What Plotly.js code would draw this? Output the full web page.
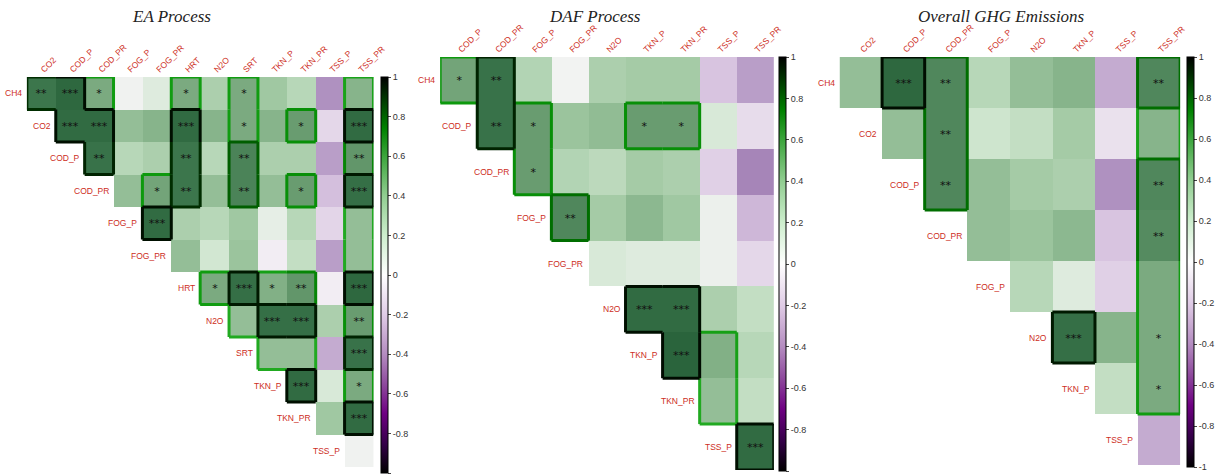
<!DOCTYPE html>
<html>
<head>
<meta charset="utf-8">
<script src="https://cdn.plot.ly/plotly-3.0.1.min.js"></script>
<style>html,body{margin:0;padding:0;background:#fff;}#chart{width:1215px;height:475px;}</style>
</head>
<body>
<div id="chart"></div>
<script>
// ---------- Panel titles ----------
const titles = ['EA Process', 'DAF Process', 'Overall GHG Emissions'];

// ---------- EA Process ----------
const eaVars = ['CH4','CO2','COD_P','COD_PR','FOG_P','FOG_PR','HRT','N2O','SRT','TKN_P','TKN_PR','TSS_P','TSS_PR'];
// each row: values from the first column right of the diagonal to the last column
const eaR = [
  [0.80, 0.88, 0.55, 0.03, 0.12, 0.55, 0.35, 0.55, 0.40, 0.30, -0.40, 0.50],
  [0.86, 0.86, 0.45, 0.50, 0.86, 0.50, 0.55, 0.50, 0.62, -0.12, 0.86],
  [0.82, 0.30, 0.35, 0.80, 0.30, 0.74, 0.35, 0.35, -0.35, 0.65],
  [0.45, 0.58, 0.80, 0.45, 0.74, 0.45, 0.62, -0.22, 0.84],
  [0.86, 0.35, 0.30, 0.40, 0.08, 0.30, -0.13, 0.45],
  [0.45, 0.18, 0.42, -0.03, 0.25, -0.35, 0.45],
  [0.55, 0.84, 0.52, 0.65, -0.03, 0.88],
  [0.45, 0.84, 0.84, 0.35, 0.62],
  [0.45, 0.45, -0.30, 0.82],
  [0.86, 0.15, 0.55],
  [0.40, 0.86],
  [0.03]
];
const eaStars = [
  ['**','***','*','','','*','','*','','','',' '],
  ['***','***','','','***','','*','','*','','***'],
  ['**','','','**','','**','','','','**'],
  ['','*','**','','**','','*','','***'],
  ['***','','','','','','',' '],
  ['','','','','','',' '],
  ['*','***','*','**','','***'],
  [' ','***','***','','**'],
  [' ',' ','','***'],
  ['***','','*'],
  ['','***'],
  ['']
];

// ---------- DAF Process ----------
const dafVars = ['CH4','COD_P','COD_PR','FOG_P','FOG_PR','N2O','TKN_P','TKN_PR','TSS_P','TSS_PR'];
const dafR = [
  [0.58, 0.82, 0.32, 0.02, 0.35, 0.38, 0.38, -0.20, -0.35],
  [0.82, 0.62, 0.42, 0.46, 0.62, 0.62, 0.15, -0.10],
  [0.62, 0.32, 0.28, 0.38, 0.35, -0.15, -0.45],
  [0.72, 0.38, 0.48, 0.40, 0.05, -0.25],
  [0.15, 0.12, 0.12, 0.05, -0.12],
  [0.86, 0.86, 0.35, 0.25],
  [0.90, 0.52, 0.30],
  [0.45, 0.25],
  [0.86]
];
const dafStars = [
  ['*','**','','','','','','',''],
  ['**','*','','','*','*','',''],
  ['*','','','','','',''],
  ['**','','','','',''],
  ['','','','',''],
  ['***','***','',''],
  ['***',' ',''],
  [' ',''],
  ['***']
];

// ---------- Overall GHG Emissions ----------
const ghgVars = ['CH4','CO2','COD_P','COD_PR','FOG_P','N2O','TKN_P','TSS_P','TSS_PR'];
const ghgR = [
  [0.45, 0.88, 0.72, 0.30, 0.45, 0.50, -0.30, 0.72],
  [0.45, 0.72, 0.20, 0.25, 0.38, -0.08, 0.50],
  [0.72, 0.45, 0.38, 0.35, -0.40, 0.72],
  [0.45, 0.42, 0.48, -0.20, 0.70],
  [0.30, 0.12, -0.15, 0.55],
  [0.84, 0.50, 0.55],
  [0.25, 0.55],
  [-0.30]
];
const ghgStars = [
  ['','***','**','','','','','**'],
  ['','**','','','','',' '],
  ['**','','','','','**'],
  ['','','','','**'],
  ['','','',' '],
  ['***','','*'],
  ['','*'],
  ['']
];

const cbTickVals = [1, 0.8, 0.6, 0.4, 0.2, 0, -0.2, -0.4, -0.6, -0.8, -1];
const cbTickText = ['1','0.8','0.6','0.4','0.2','0','-0.2','-0.4','-0.6','-0.8','-1'];

// ---------- styling ----------
const W = 1215, H = 475;
const LABEL_FONT = 'Liberation Sans Narrow, Arial Narrow, Liberation Sans, Arial, sans-serif';
const LABEL_COLOR = 'rgb(205,45,35)';

// muted colours used for the cells
const cellScale = [
  [0.00, 'rgb(50,20,60)'],
  [0.20, 'rgb(140,95,160)'],
  [0.30, 'rgb(175,145,192)'],
  [0.40, 'rgb(216,196,224)'],
  [0.50, 'rgb(246,244,246)'],
  [0.60, 'rgb(206,229,206)'],
  [0.70, 'rgb(160,200,162)'],
  [0.80, 'rgb(110,160,116)'],
  [0.90, 'rgb(60,118,76)'],
  [0.95, 'rgb(42,100,60)'],
  [1.00, 'rgb(25,70,40)']
];
// vivid colours used for the colour bar
const barScale = [
  [0.00, 'rgb(0,0,0)'],
  [0.07, 'rgb(50,0,70)'],
  [0.15, 'rgb(110,0,130)'],
  [0.22, 'rgb(140,70,155)'],
  [0.30, 'rgb(180,140,192)'],
  [0.40, 'rgb(224,204,230)'],
  [0.50, 'rgb(255,255,255)'],
  [0.60, 'rgb(205,238,205)'],
  [0.70, 'rgb(145,205,145)'],
  [0.80, 'rgb(60,165,60)'],
  [0.87, 'rgb(0,130,0)'],
  [0.93, 'rgb(0,70,0)'],
  [1.00, 'rgb(0,0,0)']
];
function borderColor(v) {
  const stops = [[0.4,[40,175,40]],[0.6,[10,150,10]],[0.72,[0,110,0]],[0.8,[0,45,0]],[0.86,[0,15,0]],[1,[0,0,0]]];
  if (v <= stops[0][0]) return 'rgb(' + stops[0][1].join(',') + ')';
  for (let i = 1; i < stops.length; i++) {
    if (v <= stops[i][0]) {
      const t = (v - stops[i-1][0]) / (stops[i][0] - stops[i-1][0]);
      const c = stops[i-1][1].map((a, k) => Math.round(a + t * (stops[i][1][k] - a)));
      return 'rgb(' + c.join(',') + ')';
    }
  }
  return 'rgb(0,0,0)';
}

const panels = [
  {vars: eaVars, vals: eaR, stars: eaStars, x: [27, 375], y: [77, 467], cbx: 383, cbLen: 396, title: titles[0], tx: 172},
  {vars: dafVars, vals: dafR, stars: dafStars, x: [442, 777], y: [57, 470], cbx: 782, cbLen: 414, title: titles[1], tx: 597},
  {vars: ghgVars, vals: ghgR, stars: ghgStars, x: [843, 1185], y: [57, 465], cbx: 1192, cbLen: 410, title: titles[2], tx: 1006}
];

const traces = [];
const layout = {
  width: W, height: H,
  margin: {l: 0, r: 0, t: 0, b: 0},
  paper_bgcolor: '#fff', plot_bgcolor: 'rgba(0,0,0,0)',
  showlegend: false,
  shapes: [], annotations: []
};

panels.forEach((p, k) => {
  const sfx = k === 0 ? '' : String(k + 1);
  const xa = 'x' + sfx, ya = 'y' + sfx;
  const rows = p.vars.slice(0, -1), cols = p.vars.slice(1);
  const n = rows.length;
  const z = [], txt = [];
  for (let r = 0; r < n; r++) {
    z.push(cols.map((_, c) => c >= r ? p.vals[r][c - r] : null));
    txt.push(cols.map((_, c) => c >= r ? String(p.stars[r][c - r] || '').trim() : ''));
  }
  traces.push({
    type: 'heatmap', x: cols, y: rows, z: z, text: txt,
    texttemplate: '%{text}', textfont: {size: 11, color: '#111', family: 'DejaVu Sans, sans-serif'},
    colorscale: cellScale, zmin: -1, zmax: 1, showscale: false,
    xaxis: xa, yaxis: ya, hoverongaps: false
  });
  // colour bar carrier
  traces.push({
    type: 'scatter', mode: 'markers', x: [cols[0]], y: [rows[0]],
    xaxis: xa, yaxis: ya, hoverinfo: 'skip',
    marker: {
      size: 0.1, opacity: 0, color: [0], cmin: -1, cmax: 1, colorscale: barScale, showscale: true,
      colorbar: {
        x: p.cbx / W, xanchor: 'left', y: 1 - p.y[0] / H, yanchor: 'top',
        len: p.cbLen, lenmode: 'pixels', thickness: 7, thicknessmode: 'pixels',
        outlinewidth: 1, outlinecolor: '#000', xpad: 0, ypad: 0,
        tickvals: cbTickVals, ticktext: cbTickText, ticks: 'outside', ticklen: 3, tickcolor: '#444',
        tickfont: {size: 9, color: '#333', family: LABEL_FONT}
      }
    }
  });
  layout['xaxis' + sfx] = {
    domain: [p.x[0] / W, p.x[1] / W], anchor: ya, type: 'category', side: 'top',
    range: [-0.5, n - 0.5], tickangle: -45, showgrid: false, zeroline: false, showline: false,
    ticks: '', tickfont: {size: 8.5, color: LABEL_COLOR, family: LABEL_FONT}, fixedrange: true
  };
  layout['yaxis' + sfx] = {
    domain: [1 - p.y[1] / H, 1 - p.y[0] / H], anchor: xa, type: 'category',
    range: [n - 0.5, -0.5], showticklabels: false, showgrid: false, zeroline: false, showline: false,
    ticks: '', fixedrange: true
  };
  // row labels on the diagonal
  rows.forEach((name, r) => {
    layout.annotations.push({
      xref: xa, yref: ya, x: r - 0.5, y: r, text: name, showarrow: false,
      xanchor: 'right', yanchor: 'middle', xshift: -3,
      font: {size: 8.5, color: LABEL_COLOR, family: LABEL_FONT}
    });
  });
  // title
  layout.annotations.push({
    xref: 'paper', yref: 'paper', x: p.tx / W, y: 1 - 17 / H, text: '<i>' + p.title + '</i>',
    showarrow: false, xanchor: 'center', yanchor: 'middle',
    font: {size: 17, color: '#222', family: 'Liberation Serif, Times New Roman, serif'}
  });
  // outlines around significant cells
  const isSig = (r, c) => r >= 0 && r < n && c >= r && c < n && p.stars[r][c - r] !== '';
  const val = (r, c) => p.vals[r][c - r];
  const edges = [];
  for (let r = 0; r < n; r++) {
    for (let c = r; c < n; c++) {
      if (!isSig(r, c)) continue;
      const v = val(r, c);
      const dirs = [
        [r - 1, c, c - 0.5, r - 0.5, c + 0.5, r - 0.5],
        [r + 1, c, c - 0.5, r + 0.5, c + 0.5, r + 0.5],
        [r, c - 1, c - 0.5, r - 0.5, c - 0.5, r + 0.5],
        [r, c + 1, c + 0.5, r - 0.5, c + 0.5, r + 0.5]
      ];
      dirs.forEach(d => {
        const nb = isSig(d[0], d[1]);
        if (!nb || v - val(d[0], d[1]) > 0.15) {
          edges.push({v: v, x0: d[2], y0: d[3], x1: d[4], y1: d[5]});
        }
      });
    }
  }
  edges.sort((a, b) => a.v - b.v).forEach(e => {
    layout.shapes.push({
      type: 'line', xref: xa, yref: ya, x0: e.x0, y0: e.y0, x1: e.x1, y1: e.y1,
      line: {color: borderColor(e.v), width: 3}
    });
  });
});

Plotly.newPlot('chart', traces, layout, {displayModeBar: false, staticPlot: true});
</script>
</body>
</html>
